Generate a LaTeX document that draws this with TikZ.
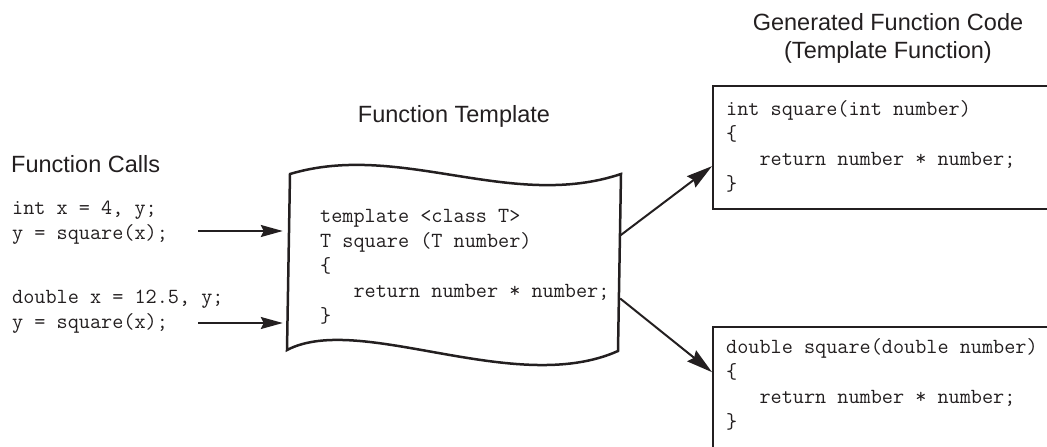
\documentclass[tikz,border=0pt]{standalone}
\usepackage{fontspec}
\usepackage{tikz}
\usetikzlibrary{arrows.meta, positioning, calc}
\setmainfont{Liberation Sans}
\definecolor{InkBlack}{RGB}{35, 31, 32}

\begin{document}
\begin{tikzpicture}[
    x=1pt, y=-1pt,
    title/.style={font=\fontsize{23.5}{28}\selectfont, text=InkBlack, inner sep=0pt},
    code/.style={font=\ttfamily\fontsize{21.6}{25}\selectfont, text=InkBlack, align=left, inner sep=0pt},
    codebox/.style={draw=InkBlack, line width=2.3pt, minimum width=358pt, inner sep=0pt},
    callarrow/.style={-{Stealth[length=22pt, width=12pt, inset=3pt]}, line width=2pt, draw=InkBlack},
    genarrow/.style={-{Stealth[length=26pt, width=14pt, inset=3pt]}, line width=2pt, draw=InkBlack}
  ]
    \useasboundingbox (0,0) rectangle (1047,447);
    \clip (0,0) rectangle (1047,447);

    \node[title, anchor=base west] (callstitle) at (11,172) {Function Calls};
    \node[code, anchor=base west] (call1) at (12,239) {int x = 4, y;\\y = square(x);};
    \node[code, anchor=base west] (call2) at (12,328) {double x = 12.5, y;\\y = square(x);};
    \coordinate (in1) at (198,231);
    \coordinate (in2) at (198,323);

    \node[title, anchor=base] (tmpltitle) at (454,122) {Function Template};
    \node[minimum width=332pt, minimum height=177pt, inner sep=0pt] (tmpl) at (454,262.5) {};
    \draw[InkBlack, line width=2.5pt]
      (290,174) .. controls (400,141) and (510,211) .. (621,174)
      -- (618,351) .. controls (515,397) and (360,312) .. (287,350) -- cycle;
    \node[code, anchor=base west] (tmplcode) at (320,322)
      {template <class T>\\T square (T number)\\\{\\\phantom{xxx}return number * number;\\\}};

    \node[title, anchor=base, align=center] (gentitle) at (888,58)
      {Generated Function Code\\(Template Function)};
    \node[codebox, minimum height=123pt, anchor=north west] (gen1) at (712,85) {};
    \node[code, anchor=base west] (gen1code) at (726,190)
      {int square(int number)\\\{\\\phantom{xxx}return number * number;\\\}};
    \node[codebox, minimum height=124pt, anchor=north west] (gen2) at (712,326) {};
    \node[code, anchor=base west] (gen2code) at (726,428)
      {double square(double number)\\\{\\\phantom{xxx}return number * number;\\\}};

    \draw[callarrow, shorten >=5pt] (in1) -- (in1 -| tmpl.west);
    \draw[callarrow, shorten >=5pt] (in2) -- (in2 -| tmpl.west);
    \draw[genarrow] ([yshift=27pt]tmpl.east) -- ([yshift=-18.5pt]gen1.west);
    \draw[genarrow] ([yshift=-36pt]tmpl.east) -- ([yshift=17pt]gen2.west);
  \end{tikzpicture}
\end{document}
